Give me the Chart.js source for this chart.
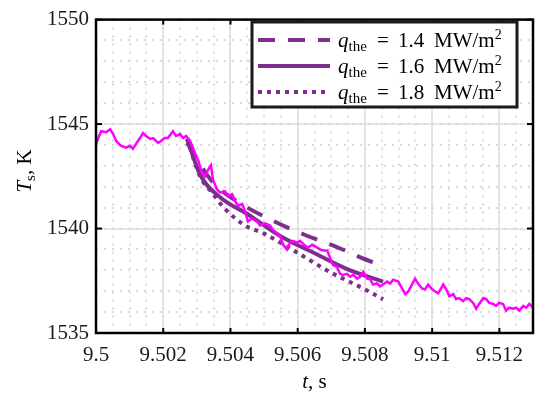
<!DOCTYPE html>
<html>
<head>
<meta charset="utf-8">
<script src="https://cdn.jsdelivr.net/npm/chart.js@4/dist/chart.umd.min.js"></script>
<style>
  html, body { margin: 0; padding: 0; background: #fff; }
  #wrap { width: 536px; height: 398px; }
</style>
</head>
<body>
<div id="wrap"><canvas id="chart"></canvas></div>
<script>
// axis ticks
const xTicks = [9.5, 9.502, 9.504, 9.506, 9.508, 9.51, 9.512];
const yTicks = [1535, 1540, 1545, 1550];

// measured surface temperature (magenta)
const measT = [
  9.50000, 9.50015, 9.50030, 9.50042, 9.50051, 9.50060, 9.50074, 9.50089, 9.50101, 9.50110,
  9.50119, 9.50131, 9.50140, 9.50149, 9.50161, 9.50170, 9.50185, 9.50193, 9.50205, 9.50214,
  9.50229, 9.50238, 9.50250, 9.50259, 9.50268, 9.50280, 9.50295, 9.50304, 9.50315, 9.50324,
  9.50333, 9.50342, 9.50348, 9.50360, 9.50369, 9.50384, 9.50393, 9.50405, 9.50414, 9.50423,
  9.50435, 9.50443, 9.50452, 9.50464, 9.50479, 9.50488, 9.50503, 9.50518, 9.50527, 9.50539,
  9.50548, 9.50557, 9.50568, 9.50577, 9.50586, 9.50598, 9.50607, 9.50622, 9.50631, 9.50643,
  9.50658, 9.50667, 9.50676, 9.50688, 9.50696, 9.50705, 9.50717, 9.50726, 9.50735, 9.50747,
  9.50756, 9.50765, 9.50777, 9.50786, 9.50795, 9.50807, 9.50815, 9.50824, 9.50836, 9.50845,
  9.50854, 9.50866, 9.50875, 9.50884, 9.50899, 9.50911, 9.50920, 9.50929, 9.50940, 9.50949,
  9.50958, 9.50970, 9.50979, 9.50988, 9.51000, 9.51009, 9.51018, 9.51033, 9.51042, 9.51051,
  9.51063, 9.51071, 9.51080, 9.51092, 9.51101, 9.51110, 9.51122, 9.51131, 9.51140, 9.51152,
  9.51161, 9.51170, 9.51182, 9.51190, 9.51199, 9.51211, 9.51220, 9.51229, 9.51241, 9.51250,
  9.51259, 9.51271, 9.51280, 9.51289, 9.51300
];
const measTs = [
  1544.05, 1544.66, 1544.61, 1544.75, 1544.52, 1544.19, 1543.96, 1543.87, 1543.96, 1543.82,
  1544.05, 1544.33, 1544.57, 1544.43, 1544.29, 1544.33, 1544.10, 1544.19, 1544.33, 1544.33,
  1544.66, 1544.43, 1544.52, 1544.33, 1544.43, 1544.19, 1543.59, 1543.27, 1542.66, 1542.48,
  1542.80, 1543.03, 1542.34, 1541.87, 1541.73, 1541.78, 1541.55, 1541.64, 1541.31, 1541.08,
  1541.18, 1540.85, 1540.34, 1540.48, 1540.34, 1540.15, 1540.25, 1540.15, 1539.92, 1539.78,
  1539.64, 1539.22, 1538.99, 1539.32, 1539.41, 1539.32, 1539.41, 1539.18, 1539.09, 1539.22,
  1539.09, 1538.99, 1538.95, 1538.95, 1538.62, 1538.25, 1538.16, 1537.83, 1537.78, 1537.83,
  1537.69, 1537.78, 1537.60, 1537.69, 1537.92, 1537.60, 1537.60, 1537.32, 1537.37, 1537.23,
  1537.32, 1537.46, 1537.37, 1537.55, 1537.46, 1537.13, 1536.86, 1536.99, 1537.32, 1537.60,
  1537.37, 1537.13, 1537.09, 1537.32, 1537.09, 1536.99, 1536.90, 1537.32, 1537.09, 1536.76,
  1536.86, 1536.62, 1536.67, 1536.53, 1536.67, 1536.62, 1536.44, 1536.16, 1536.39, 1536.67,
  1536.62, 1536.44, 1536.39, 1536.30, 1536.44, 1536.39, 1536.07, 1536.21, 1536.16, 1536.21,
  1536.07, 1536.30, 1536.21, 1536.39, 1536.21
];

// model curves
const modelT14 = [9.50271, 9.50348, 9.50423, 9.50524, 9.50622, 9.50720, 9.50824, 9.50854];
const modelTs14 = [1544.10, 1542.20, 1541.27, 1540.39, 1539.69, 1539.09, 1538.39, 1538.28];
const modelT16 = [9.50271, 9.50310, 9.50369, 9.50449, 9.50548, 9.50646, 9.50747, 9.50854];
const modelTs16 = [1544.29, 1542.57, 1541.50, 1540.71, 1539.64, 1538.85, 1538.06, 1537.46];
const modelT18 = [9.50271, 9.50310, 9.50345, 9.50378, 9.50443, 9.50497, 9.50598, 9.50696, 9.50795, 9.50854];
const modelTs18 = [1544.29, 1542.48, 1541.73, 1541.04, 1540.15, 1539.78, 1538.85, 1537.92, 1537.13, 1536.62];

const qLabels = ['1.4', '1.6', '1.8'];

const MAGENTA = '#ff00ff';
const PURPLE = '#7e2f8e';
const SERIF = '"Liberation Serif", "Times New Roman", serif';

const zip = (xs, ys) => xs.map((x, i) => ({ x: x, y: ys[i] }));

const modelStyles = [
  { dash: [17, 13], cap: 'butt' },
  { dash: [], cap: 'butt' },
  { dash: [4, 5], cap: 'butt' }
];

function drawParts(ctx, parts, cx, cy, align) {
  let w = 0;
  parts.forEach(p => { ctx.font = p.font; w += ctx.measureText(p.t).width; });
  let x = align === 'left' ? cx : cx - w / 2;
  ctx.textBaseline = 'alphabetic';
  ctx.textAlign = 'left';
  parts.forEach(p => {
    ctx.font = p.font;
    ctx.fillText(p.t, p.x !== undefined ? p.x : x, cy + (p.dy || 0));
    x = (p.x !== undefined ? p.x : x) + ctx.measureText(p.t).width;
  });
}

const overlay = {
  id: 'overlay',
  beforeDatasetsDraw(chart) {
    const { ctx, chartArea: a, scales } = chart;
    ctx.save();
    ctx.strokeStyle = '#dadada';
    ctx.lineWidth = 2;
    ctx.setLineDash([2, 6]);
    for (let v = 9.5; v < 9.513; v += 0.0005) {
      const px = Math.round(scales.x.getPixelForValue(v));
      ctx.beginPath(); ctx.moveTo(px, a.top); ctx.lineTo(px, a.bottom); ctx.stroke();
    }
    for (let v = 1535; v <= 1550; v += 1) {
      const py = Math.round(scales.y.getPixelForValue(v));
      ctx.beginPath(); ctx.moveTo(a.left, py); ctx.lineTo(a.right, py); ctx.stroke();
    }
    ctx.restore();
  },
  afterDatasetsDraw(chart) {
    const { ctx, chartArea: a, scales } = chart;
    ctx.save();
    ctx.strokeStyle = '#000';
    ctx.lineWidth = 2.5;
    ctx.strokeRect(a.left, a.top, a.right - a.left, a.bottom - a.top);
    ctx.lineWidth = 2;
    xTicks.forEach(v => {
      const px = scales.x.getPixelForValue(v);
      ctx.beginPath(); ctx.moveTo(px, a.bottom); ctx.lineTo(px, a.bottom - 5); ctx.stroke();
      ctx.beginPath(); ctx.moveTo(px, a.top); ctx.lineTo(px, a.top + 5); ctx.stroke();
    });
    yTicks.forEach(v => {
      const py = scales.y.getPixelForValue(v);
      ctx.beginPath(); ctx.moveTo(a.left, py); ctx.lineTo(a.left + 6, py); ctx.stroke();
      ctx.beginPath(); ctx.moveTo(a.right, py); ctx.lineTo(a.right - 6, py); ctx.stroke();
    });

    // legend
    const lx = 252, ly = 22, lw = 265, lh = 85;
    ctx.fillStyle = '#fff';
    ctx.fillRect(lx, ly, lw, lh);
    ctx.lineWidth = 3;
    ctx.strokeStyle = '#1a1a1a';
    ctx.strokeRect(lx, ly, lw, lh);
    const rows = [40, 66, 92];
    rows.forEach((ry, i) => {
      ctx.strokeStyle = PURPLE;
      ctx.lineWidth = 4;
      ctx.lineCap = modelStyles[i].cap;
      ctx.setLineDash(modelStyles[i].dash);
      ctx.beginPath(); ctx.moveTo(258, ry); ctx.lineTo(330, ry); ctx.stroke();
      ctx.setLineDash([]);
      ctx.fillStyle = '#000';
      drawParts(ctx, [
        { t: 'q', font: 'italic 21px ' + SERIF, x: 338 },
        { t: 'the', font: '15px ' + SERIF, dy: 4 },
        { t: '=', font: '21px ' + SERIF, x: 377 },
        { t: qLabels[i], font: '21px ' + SERIF, x: 398 },
        { t: 'MW/m', font: '21px ' + SERIF, x: 434 },
        { t: '2', font: '14px ' + SERIF, dy: -8 }
      ], 338, ry + 7, 'left');
    });

    // axis titles
    ctx.fillStyle = '#000';
    drawParts(ctx, [
      { t: 't', font: 'italic 21px ' + SERIF },
      { t: ', s', font: '21px ' + SERIF }
    ], (a.left + a.right) / 2, 388, 'center');
    ctx.translate(31, 171);
    ctx.rotate(-Math.PI / 2);
    drawParts(ctx, [
      { t: 'T', font: 'italic 21px ' + SERIF },
      { t: 's', font: '15px ' + SERIF, dy: 4 },
      { t: ', K', font: '21px ' + SERIF }
    ], 0, 0, 'center');
    ctx.restore();
  }
};

const datasets = [
  {
    data: zip(measT, measTs),
    borderColor: MAGENTA,
    borderWidth: 2.5,
    pointRadius: 0,
    tension: 0,
    order: 0
  }
].concat([[modelT14, modelTs14], [modelT16, modelTs16], [modelT18, modelTs18]].map((m, i) => ({
  data: zip(m[0], m[1]),
  borderColor: PURPLE,
  borderWidth: 4,
  borderDash: modelStyles[i].dash,
  borderCapStyle: modelStyles[i].cap,
  pointRadius: 0,
  cubicInterpolationMode: 'monotone',
  order: 1
})));

new Chart(document.getElementById('chart'), {
  type: 'line',
  data: { datasets: datasets },
  options: {
    responsive: true,
    maintainAspectRatio: false,
    animation: false,
    devicePixelRatio: 1,
    layout: { padding: { left: 0, top: 10, right: 3, bottom: 0 } },
    plugins: { legend: { display: false }, tooltip: { enabled: false } },
    scales: {
      x: {
        type: 'linear',
        min: 9.5,
        max: 9.513,
        afterBuildTicks: s => { s.ticks = xTicks.map(v => ({ value: v })); },
        afterFit: s => { s.height = 65; },
        grid: { color: '#e6e6e6', lineWidth: 2, drawTicks: false },
        border: { display: false },
        ticks: {
          color: '#1a1a1a',
          padding: 10,
          maxRotation: 0,
          autoSkip: false,
          font: { family: SERIF, size: 21 },
          callback: v => String(parseFloat(v.toFixed(3)))
        }
      },
      y: {
        type: 'linear',
        min: 1535,
        max: 1550,
        afterBuildTicks: s => { s.ticks = yTicks.map(v => ({ value: v })); },
        afterFit: s => { s.width = 96; },
        grid: { color: '#e6e6e6', lineWidth: 2, drawTicks: false },
        border: { display: false },
        ticks: {
          color: '#1a1a1a',
          padding: 7,
          font: { family: SERIF, size: 21 },
          callback: v => String(v)
        }
      }
    }
  },
  plugins: [overlay]
});
</script>
</body>
</html>
